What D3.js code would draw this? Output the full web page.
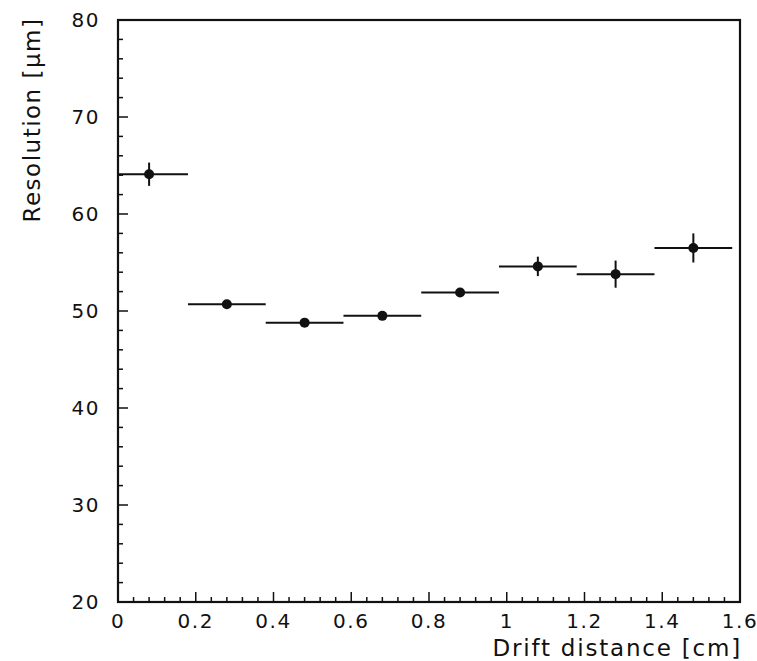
<!DOCTYPE html>
<html>
<head>
<meta charset="utf-8">
<script src="https://cdn.jsdelivr.net/npm/d3@7"></script>
<style>
  body { margin: 0; background: #fff; }
  text { font-family: "DejaVu Sans", sans-serif; fill: #111; }
</style>
</head>
<body>
<div id="chart"></div>
<script>
// drift distance bin centres [cm]
const driftCenters = [0.08, 0.28, 0.48, 0.68, 0.88, 1.08, 1.28, 1.48];
const binHalfWidth = 0.1;
// resolution [um] and its error
const resolution = [64.1, 50.7, 48.8, 49.5, 51.9, 54.6, 53.8, 56.5];
const resError = [1.2, 0.3, 0.3, 0.3, 0.4, 1.0, 1.4, 1.5];

const xTickValues = [0, 0.2, 0.4, 0.6, 0.8, 1, 1.2, 1.4, 1.6];
const yTickValues = [20, 30, 40, 50, 60, 70, 80];

const width = 757, height = 661;
const margin = { top: 20, right: 17, bottom: 59, left: 118 };

const svg = d3.select("#chart").append("svg")
  .attr("width", width)
  .attr("height", height);

const x = d3.scaleLinear().domain([0, 1.6]).range([margin.left, width - margin.right]);
const y = d3.scaleLinear().domain([20, 80]).range([height - margin.bottom, margin.top]);

const x0 = x.range()[0], x1 = x.range()[1];
const y0 = y.range()[0], y1 = y.range()[1];

// minor + major ticks, drawn inward
const g = svg.append("g").attr("stroke", "#111").attr("stroke-width", 1.5);

d3.range(0, 1.6001, 0.04).forEach((v, i) => {
  const major = i % 5 === 0;
  const len = major ? 10 : 5;
  g.append("line")
    .attr("x1", x(v)).attr("x2", x(v))
    .attr("y1", y0).attr("y2", y0 - len);
});

d3.range(20, 80.001, 2).forEach((v, i) => {
  const major = i % 5 === 0;
  const len = major ? 10 : 5;
  g.append("line")
    .attr("x1", x0).attr("x2", x0 + len)
    .attr("y1", y(v)).attr("y2", y(v));
});

// frame
svg.append("rect")
  .attr("x", x0).attr("y", y1)
  .attr("width", x1 - x0).attr("height", y0 - y1)
  .attr("fill", "none")
  .attr("stroke", "#111")
  .attr("stroke-width", 2.2);

// tick labels
svg.append("g").selectAll("text")
  .data(xTickValues)
  .join("text")
  .attr("x", d => x(d))
  .attr("y", y0 + 26)
  .attr("text-anchor", "middle")
  .style("font-size", "20px")
  .style("letter-spacing", "1.5px")
  .text(d => d);

svg.append("g").selectAll("text")
  .data(yTickValues)
  .join("text")
  .attr("x", x0 - 18)
  .attr("y", d => y(d) + 7)
  .attr("text-anchor", "end")
  .style("font-size", "20px")
  .style("letter-spacing", "1.5px")
  .text(d => d);

// axis titles
svg.append("text")
  .attr("x", x1 + 2)
  .attr("y", height - 5)
  .attr("text-anchor", "end")
  .style("font-size", "23px")
  .style("letter-spacing", "1.8px")
  .text("Drift distance [cm]");

svg.append("text")
  .attr("transform", "translate(40,120) rotate(-90)")
  .attr("text-anchor", "middle")
  .style("font-size", "23px")
  .style("letter-spacing", "1.5px")
  .text("Resolution [\u03bcm]");

// data
const pts = driftCenters.map((c, i) => ({ c, r: resolution[i], e: resError[i] }));

const dg = svg.append("g");
dg.selectAll("line.h")
  .data(pts)
  .join("line")
  .attr("class", "h")
  .attr("x1", d => x(Math.max(0, d.c - binHalfWidth)))
  .attr("x2", d => x(Math.min(1.6, d.c + binHalfWidth)))
  .attr("y1", d => y(d.r)).attr("y2", d => y(d.r))
  .attr("stroke", "#111").attr("stroke-width", 2);

dg.selectAll("line.v")
  .data(pts)
  .join("line")
  .attr("class", "v")
  .attr("x1", d => x(d.c)).attr("x2", d => x(d.c))
  .attr("y1", d => y(d.r - d.e)).attr("y2", d => y(d.r + d.e))
  .attr("stroke", "#111").attr("stroke-width", 2);

dg.selectAll("circle")
  .data(pts)
  .join("circle")
  .attr("cx", d => x(d.c))
  .attr("cy", d => y(d.r))
  .attr("r", 5)
  .attr("fill", "#111");
</script>
</body>
</html>
